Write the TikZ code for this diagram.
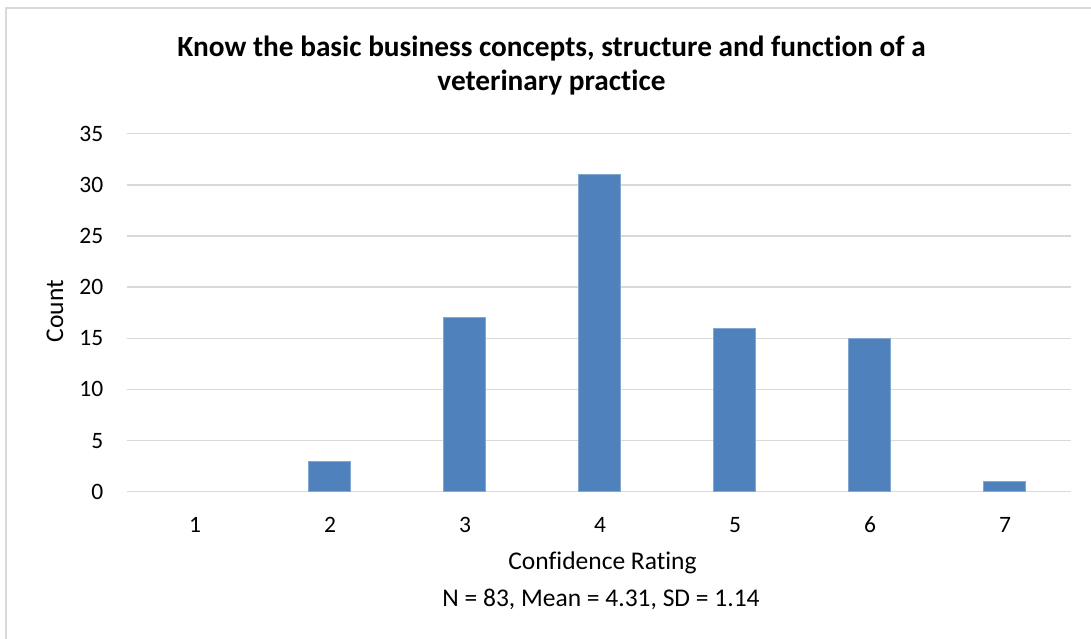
\documentclass[tikz,border=0pt]{standalone}
\usepackage{fontspec}
\setmainfont{Carlito}[Ligatures=NoCommon]
\usepackage{tikz}

\definecolor{barblue}{HTML}{4F81BD}
\definecolor{gridgray}{HTML}{D9D9D9}

\begin{document}
\begin{tikzpicture}[x=1pt,y=-1pt,
  gridline/.style={draw=gridgray, line width=1.4pt},
  bar/.style={fill=barblue, draw=barblue!70!white, line width=0.6pt},
  ticklabel/.style={font=\fontsize{23.5}{28}\selectfont, inner sep=0pt},
  axistitle/.style={font=\fontsize{25.5}{30}\selectfont, inner sep=0pt},
  charttitle/.style={font=\fontsize{29.3}{34}\selectfont\bfseries, inner sep=0pt}]
\useasboundingbox (0,0) rectangle (1091,639);

% chart area frame
\draw[draw=gridgray, line width=1.5pt] (6,639) -- (6,8) -- (1091,8);

% title
\node[charttitle, anchor=base] (title1) at (551.5,57) {Know the basic business concepts, structure and function of a};
\node[charttitle, anchor=base] (title2) at (551.5,91) {veterinary practice};

% plot area, counts upward
\begin{scope}[shift={(0,491.7)}, y=10.23pt]
\draw[gridline] (126.5,0) -- (1071,0);
\draw[gridline] (126.5,5) -- (1071,5);
\draw[gridline] (126.5,10) -- (1071,10);
\draw[gridline] (126.5,15) -- (1071,15);
\draw[gridline] (126.5,20) -- (1071,20);
\draw[gridline] (126.5,25) -- (1071,25);
\draw[gridline] (126.5,30) -- (1071,30);
\draw[gridline] (126.5,35) -- (1071,35);

\draw[bar] (307.85,0) rectangle (350.15,3);
\draw[bar] (442.85,0) rectangle (485.15,17);
\draw[bar] (577.85,0) rectangle (620.15,31);
\draw[bar] (712.85,0) rectangle (755.15,16);
\draw[bar] (847.85,0) rectangle (890.15,15);
\draw[bar] (982.85,0) rectangle (1025.15,1);

\node[ticklabel, anchor=east] (y0) at (103.5,0) {0};
\node[ticklabel, anchor=east] (y5) at (103.5,5) {5};
\node[ticklabel, anchor=east] (y10) at (103.5,10) {10};
\node[ticklabel, anchor=east] (y15) at (103.5,15) {15};
\node[ticklabel, anchor=east] (y20) at (103.5,20) {20};
\node[ticklabel, anchor=east] (y25) at (103.5,25) {25};
\node[ticklabel, anchor=east] (y30) at (103.5,30) {30};
\node[ticklabel, anchor=east] (y35) at (103.5,35) {35};
\end{scope}

% category labels
\node[ticklabel, anchor=base] (x1) at (195,532) {1};
\node[ticklabel, anchor=base] (x2) at (330,532) {2};
\node[ticklabel, anchor=base] (x3) at (465,532) {3};
\node[ticklabel, anchor=base] (x4) at (600,532) {4};
\node[ticklabel, anchor=base] (x5) at (735,532) {5};
\node[ticklabel, anchor=base] (x6) at (870,532) {6};
\node[ticklabel, anchor=base] (x7) at (1005,532) {7};

% axis titles
\node[axistitle, rotate=90] (count) at (55,311) {Count};
\node[axistitle, anchor=base] (rating) at (602.5,569) {Confidence Rating};
\node[axistitle, anchor=base] (stats) at (601,606) {N = 83, Mean = 4.31, SD = 1.14};
\end{tikzpicture}
\end{document}
